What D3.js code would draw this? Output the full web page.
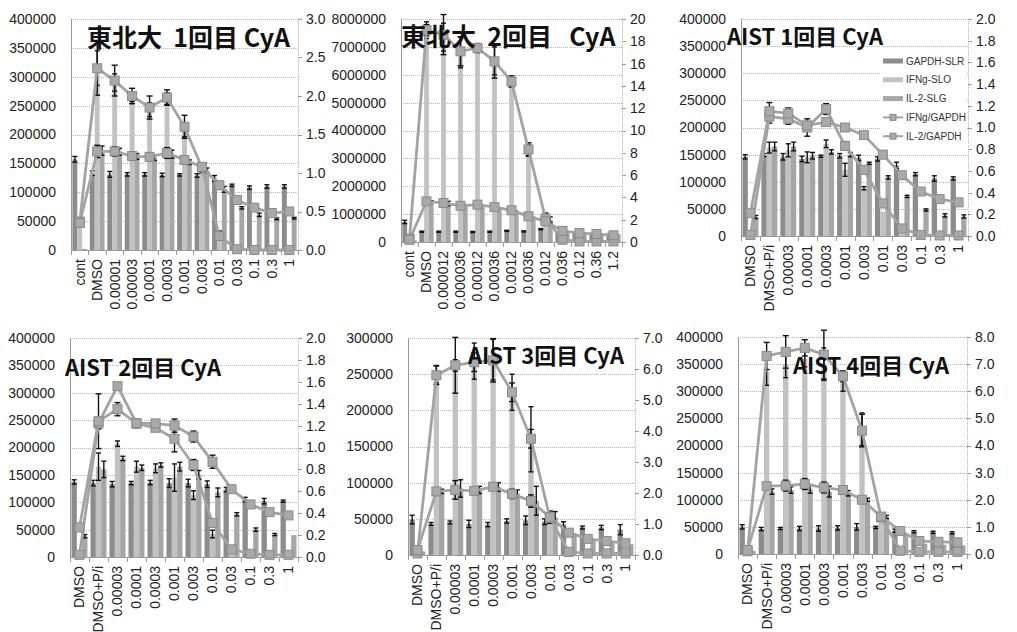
<!DOCTYPE html>
<html>
<head>
<meta charset="utf-8">
<title>CyA</title>
<script src="https://cdn.jsdelivr.net/npm/d3@7/dist/d3.min.js"></script>
<style>
  body { margin: 0; background: #fff; }
  svg text { font-family: "Liberation Sans", Arial, sans-serif; fill: #222; }
  .title { font-family: "Noto Sans CJK JP", sans-serif; font-weight: bold; fill: #111; white-space: pre; }
  .legend text { font-size: 10px; fill: #333; }
</style>
</head>
<body>
<div id="chart"></div>
<script>
// categories
const cats1 = ['cont', 'DMSO', '0.00001', '0.00003', '0.0001', '0.0003', '0.001', '0.003', '0.01', '0.03', '0.1', '0.3', '1'];
const cats2 = ['cont', 'DMSO', '0.000012', '0.000036', '0.00012', '0.00036', '0.0012', '0.0036', '0.012', '0.036', '0.12', '0.36', '1.2'];
const catsAist = ['DMSO', 'DMSO+P/i', '0.00003', '0.0001', '0.0003', '0.001', '0.003', '0.01', '0.03', '0.1', '0.3', '1'];

const seriesNames = ['GAPDH-SLR', 'IFNg-SLO', 'IL-2-SLG', 'IFNg/GAPDH', 'IL-2/GAPDH'];

// 東北大 1回目
const p1Gapdh = [157000, 133000, 131000, 131000, 131000, 130000, 130000, 129000, 124000, 112000, 108000, 110000, 110000];
const p1GapdhErr = [5000, 4000, 5000, 3000, 3000, 3000, 2000, 3000, 5000, 2000, 3000, 3000, 3000];
const p1Ifng = [55000, 315000, 290000, 265000, 243000, 262000, 208000, 140000, 28000, 1000, 500, 500, 500];
const p1IfngErr = [0, 30000, 15000, 8000, 12000, 10000, 12000, 6000, 5000, 0, 0, 0, 0];
const p1Il2 = [2000, 172000, 170000, 162000, 160000, 166000, 152000, 138000, 105000, 73000, 61000, 54000, 55000];
const p1Il2Err = [0, 8000, 6000, 5000, 5000, 7000, 4000, 4000, 5000, 2000, 3000, 1500, 1500];
const p1IfngRatio = [0.37, 2.36, 2.2, 2.0, 1.85, 1.98, 1.6, 1.07, 0.18, 0.01, 0.0, 0.0, 0.0];
const p1IfngRatioErr = [0, 0.35, 0.2, 0.1, 0.15, 0.1, 0.15, 0.05, 0.05, 0, 0, 0, 0];
const p1Il2Ratio = [0.35, 1.28, 1.28, 1.22, 1.21, 1.26, 1.17, 1.08, 0.84, 0.65, 0.55, 0.48, 0.5];
const p1Il2RatioErr = [0, 0.08, 0.06, 0.05, 0.05, 0.07, 0.05, 0.05, 0.05, 0.02, 0.03, 0.02, 0.02];

// 東北大 2回目
const p2Gapdh = [720000, 370000, 370000, 370000, 360000, 370000, 400000, 380000, 460000, 350000, 340000, 330000, 330000];
const p2GapdhErr = [60000, 20000, 20000, 20000, 20000, 20000, 20000, 20000, 20000, 0, 0, 0, 0];
const p2Ifng = [120000, 7600000, 7350000, 6800000, 6950000, 6500000, 5750000, 3300000, 850000, 60000, 20000, 15000, 15000];
const p2IfngErr = [20000, 300000, 500000, 550000, 150000, 500000, 150000, 200000, 150000, 0, 0, 0, 0];
const p2Il2 = [60000, 1450000, 1380000, 1320000, 1320000, 1250000, 1150000, 920000, 800000, 400000, 330000, 300000, 280000];
const p2Il2Err = [0, 30000, 80000, 0, 0, 0, 0, 0, 100000, 0, 0, 0, 0];
const p2IfngRatio = [0.3, 19.0, 18.6, 17.1, 17.4, 16.2, 14.4, 8.3, 2.1, 0.2, 0.05, 0.05, 0.05];
const p2IfngRatioErr = [0, 0.5, 1.8, 1.3, 0.4, 1.5, 0.5, 0.6, 0.5, 0, 0, 0, 0];
const p2Il2Ratio = [0.2, 3.64, 3.5, 3.25, 3.35, 3.13, 2.84, 2.3, 1.85, 1.0, 0.8, 0.72, 0.6];
const p2Il2RatioErr = [0, 0, 0.2, 0, 0, 0, 0, 0, 0.3, 0, 0, 0, 0];

// AIST 1回目
const p3Gapdh = [146000, 149000, 146000, 142000, 147000, 148000, 144000, 142000, 130000, 114000, 106000, 106000];
const p3GapdhErr = [4000, 3000, 6000, 5000, 2000, 4000, 5000, 4000, 6000, 3000, 5000, 3000];
const p3Ifng = [1000, 163000, 158000, 145000, 170000, 122000, 88000, 45000, 10000, 2000, 1000, 1000];
const p3IfngErr = [0, 10000, 12000, 10000, 7000, 12000, 3000, 0, 0, 0, 0, 0];
const p3Il2 = [35000, 165000, 165000, 148000, 155000, 150000, 134000, 108000, 73000, 48000, 38000, 36000];
const p3Il2Err = [3000, 8000, 8000, 6000, 4000, 4000, 2000, 3000, 2000, 2000, 3000, 3000];
const p3IfngRatio = [0.01, 1.10, 1.08, 1.0, 1.17, 0.83, 0.61, 0.30, 0.07, 0.01, 0.005, 0.005];
const p3IfngRatioErr = [0, 0.06, 0.05, 0.08, 0.05, 0.04, 0.03, 0.02, 0, 0, 0, 0];
const p3Il2Ratio = [0.21, 1.15, 1.13, 1.02, 1.05, 1.0, 0.93, 0.75, 0.56, 0.41, 0.34, 0.31];
const p3Il2RatioErr = [0.02, 0.08, 0.05, 0.03, 0.03, 0.01, 0.02, 0, 0.03, 0, 0, 0];

// AIST 2回目
const p4Gapdh = [137000, 135000, 133000, 135000, 136000, 135000, 135000, 133000, 123000, 105000, 102000, 102000];
const p4GapdhErr = [4000, 5000, 5000, 3000, 4000, 8000, 7000, 6000, 4000, 4000, 5000, 2000];
const p4Ifng = [3000, 165000, 207000, 165000, 162000, 145000, 113000, 42000, 8000, 4000, 2000, 2000];
const p4IfngErr = [0, 25000, 5000, 10000, 8000, 25000, 8000, 7000, 0, 0, 0, 0];
const p4Il2 = [38000, 160000, 180000, 163000, 168000, 165000, 150000, 118000, 78000, 50000, 41000, 40000];
const p4Il2Err = [3000, 15000, 4000, 5000, 4000, 8000, 8000, 8000, 3000, 3000, 2000, 0];
const p4IfngRatio = [0.02, 1.22, 1.56, 1.22, 1.18, 1.08, 0.84, 0.31, 0.07, 0.03, 0.02, 0.02];
const p4IfngRatioErr = [0, 0.05, 0.02, 0.03, 0.03, 0.12, 0.05, 0.03, 0, 0, 0, 0];
const p4Il2Ratio = [0.27, 1.24, 1.35, 1.22, 1.22, 1.2, 1.1, 0.87, 0.62, 0.48, 0.41, 0.38];
const p4Il2RatioErr = [0.02, 0.25, 0.06, 0.04, 0.03, 0.06, 0.05, 0.06, 0.02, 0.02, 0.02, 0.02];

// AIST 3回目
const p5Gapdh = [49000, 43000, 45000, 43000, 42000, 47000, 48000, 46000, 42000, 38000, 38000, 35000];
const p5GapdhErr = [6000, 2000, 2000, 5000, 3000, 3000, 6000, 4000, 4000, 2000, 3000, 7000];
const p5Ifng = [1000, 250000, 262000, 268000, 270000, 225000, 160000, 55000, 4000, 2000, 1000, 1000];
const p5IfngErr = [0, 12000, 8000, 25000, 28000, 25000, 45000, 0, 0, 0, 0, 0];
const p5Il2 = [5000, 88000, 92000, 90000, 94000, 85000, 75000, 52000, 30000, 21000, 18000, 15000];
const p5Il2Err = [0, 3000, 12000, 5000, 6000, 5000, 20000, 8000, 0, 0, 0, 0];
const p5IfngRatio = [0.05, 5.8, 6.12, 6.22, 6.28, 5.25, 3.75, 1.2, 0.1, 0.05, 0.05, 0.05];
const p5IfngRatioErr = [0, 0.3, 0.9, 0.3, 0.7, 0.3, 0.3, 0, 0, 0, 0, 0];
const p5Il2Ratio = [0.16, 2.05, 2.1, 2.07, 2.2, 1.97, 1.74, 1.22, 0.72, 0.52, 0.45, 0.38];
const p5Il2RatioErr = [0, 0.05, 0.3, 0.1, 0.1, 0.15, 0.2, 0.2, 0, 0, 0, 0];

// AIST 4回目
const p6Gapdh = [50000, 46000, 47000, 47000, 47000, 48000, 50000, 49000, 43000, 41000, 40000, 39000];
const p6GapdhErr = [4000, 3000, 2000, 4000, 5000, 4000, 6000, 2000, 3000, 2000, 2000, 2000];
const p6Ifng = [4000, 336000, 350000, 360000, 350000, 315000, 230000, 65000, 4000, 2000, 1500, 1500];
const p6IfngErr = [0, 25000, 25000, 15000, 30000, 15000, 30000, 0, 0, 0, 0, 0];
const p6Il2 = [6000, 115000, 118000, 120000, 115000, 112000, 100000, 68000, 35000, 19000, 17000, 16000];
const p6Il2Err = [0, 5000, 6000, 8000, 10000, 5000, 3000, 3000, 0, 0, 0, 0];
const p6IfngRatio = [0.1, 7.3, 7.45, 7.6, 7.35, 6.55, 4.55, 1.35, 0.12, 0.08, 0.08, 0.08];
const p6IfngRatioErr = [0, 0.5, 0.6, 0.3, 0.9, 0.2, 0.6, 0, 0, 0, 0, 0];
const p6Il2Ratio = [0.15, 2.5, 2.52, 2.58, 2.45, 2.36, 2.0, 1.38, 0.85, 0.48, 0.45, 0.43];
const p6Il2RatioErr = [0, 0.1, 0.2, 0.2, 0.2, 0.15, 0.1, 0, 0, 0, 0, 0];

const panels = [
  { title: '東北大  1回目 CyA', cats: cats1, bars: [[p1Gapdh, p1GapdhErr], [p1Ifng, p1IfngErr], [p1Il2, p1Il2Err]],
    lines: [[p1IfngRatio, p1IfngRatioErr], [p1Il2Ratio, p1Il2RatioErr]],
    box: [71, 19, 298, 250], leftMax: 400000, leftStep: 50000, rightMax: 3, rightStep: 0.5, rightFmt: '.1f', tx: 87, ty: 47, ts: 25 },
  { title: '東北大  2回目   CyA', cats: cats2, bars: [[p2Gapdh, p2GapdhErr], [p2Ifng, p2IfngErr], [p2Il2, p2Il2Err]],
    lines: [[p2IfngRatio, p2IfngRatioErr], [p2Il2Ratio, p2Il2RatioErr]],
    box: [401, 19, 622, 242], leftMax: 8000000, leftStep: 1000000, rightMax: 20, rightStep: 2, rightFmt: 'd', tx: 401, ty: 46, ts: 25 },
  { title: 'AIST 1回目 CyA', cats: catsAist, bars: [[p3Gapdh, p3GapdhErr], [p3Ifng, p3IfngErr], [p3Il2, p3Il2Err]],
    lines: [[p3IfngRatio, p3IfngRatioErr], [p3Il2Ratio, p3Il2RatioErr]],
    box: [741, 19, 968, 236], leftMax: 400000, leftStep: 50000, rightMax: 2, rightStep: 0.2, rightFmt: '.1f', tx: 727, ty: 45, ts: 22, legend: true },
  { title: 'AIST 2回目 CyA', cats: catsAist, bars: [[p4Gapdh, p4GapdhErr], [p4Ifng, p4IfngErr], [p4Il2, p4Il2Err]],
    lines: [[p4IfngRatio, p4IfngRatioErr], [p4Il2Ratio, p4Il2RatioErr]],
    box: [70, 338, 298, 557], leftMax: 400000, leftStep: 50000, rightMax: 2, rightStep: 0.2, rightFmt: '.1f', tx: 65, ty: 376, ts: 22 },
  { title: 'AIST 3回目 CyA', cats: catsAist, bars: [[p5Gapdh, p5GapdhErr], [p5Ifng, p5IfngErr], [p5Il2, p5Il2Err]],
    lines: [[p5IfngRatio, p5IfngRatioErr], [p5Il2Ratio, p5Il2RatioErr]],
    box: [408, 338, 635, 555], leftMax: 300000, leftStep: 50000, rightMax: 7, rightStep: 1, rightFmt: '.1f', tx: 468, ty: 364, ts: 22 },
  { title: 'AIST 4回目 CyA', cats: catsAist, bars: [[p6Gapdh, p6GapdhErr], [p6Ifng, p6IfngErr], [p6Il2, p6Il2Err]],
    lines: [[p6IfngRatio, p6IfngRatioErr], [p6Il2Ratio, p6Il2RatioErr]],
    box: [738, 337, 967, 554], leftMax: 400000, leftStep: 50000, rightMax: 8, rightStep: 1, rightFmt: '.1f', tx: 793, ty: 374, ts: 22 }
];

const barColors = ['#8c8c8c', '#c2c2c2', '#a6a6a6'];
const lineColor = '#a3a3a3';

const svg = d3.select('#chart').append('svg')
  .attr('width', 1017)
  .attr('height', 632);

function errorBar(g, x, y0, y1, cap) {
  g.append('line').attr('x1', x).attr('x2', x).attr('y1', y0).attr('y2', y1);
  g.append('line').attr('x1', x - cap).attr('x2', x + cap).attr('y1', y0).attr('y2', y0);
  g.append('line').attr('x1', x - cap).attr('x2', x + cap).attr('y1', y1).attr('y2', y1);
}

panels.forEach(p => {
  const [x0, y0, x1, y1] = p.box;
  const g = svg.append('g');

  const x = d3.scaleBand().domain(p.cats).range([x0, x1]);
  const bw = x.bandwidth();
  const xs = d3.scaleBand().domain([0, 1, 2]).range([bw * 0.08, bw * 0.92]);
  const yL = d3.scaleLinear().domain([0, p.leftMax]).range([y1, y0]);
  const yR = d3.scaleLinear().domain([0, p.rightMax]).range([y1, y0]);
  const leftTicks = d3.range(0, p.leftMax + p.leftStep / 2, p.leftStep);
  const rightTicks = d3.range(0, p.rightMax + p.rightStep / 2, p.rightStep);

  // gridlines
  g.append('g').selectAll('line').data(leftTicks.slice(1)).enter().append('line')
    .attr('x1', x0).attr('x2', x1)
    .attr('y1', d => Math.round(yL(d)) + 0.5).attr('y2', d => Math.round(yL(d)) + 0.5)
    .attr('stroke', '#b5b5b5').attr('stroke-dasharray', '1,1');
  g.append('line').attr('x1', x1 + 0.5).attr('x2', x1 + 0.5).attr('y1', y0).attr('y2', y1)
    .attr('stroke', '#b5b5b5').attr('stroke-dasharray', '1,1');

  // bars
  p.bars.forEach((s, si) => {
    g.append('g').selectAll('rect').data(s[0]).enter().append('rect')
      .attr('x', (d, i) => x(p.cats[i]) + xs(si))
      .attr('width', xs.bandwidth())
      .attr('y', d => yL(d))
      .attr('height', d => y1 - yL(d))
      .attr('fill', barColors[si]);
  });
  const eb = g.append('g').attr('stroke', '#111').attr('stroke-width', 1.4);
  p.bars.forEach((s, si) => {
    s[0].forEach((v, i) => {
      const e = s[1][i];
      if (!e) return;
      const cx = x(p.cats[i]) + xs(si) + xs.bandwidth() / 2;
      errorBar(eb, cx, yL(v + e), yL(Math.max(0, v - e)), 2.5);
    });
  });

  // ratio lines
  const line = d3.line().x((d, i) => x(p.cats[i]) + bw / 2).y(d => yR(d));
  p.lines.forEach(s => {
    g.append('path').datum(s[0]).attr('d', line)
      .attr('fill', 'none').attr('stroke', lineColor).attr('stroke-width', 2.8);
  });
  p.lines.forEach(s => {
    g.append('g').selectAll('rect').data(s[0]).enter().append('rect')
      .attr('x', (d, i) => x(p.cats[i]) + bw / 2 - 4.5)
      .attr('y', d => yR(d) - 4.5)
      .attr('width', 9).attr('height', 9)
      .attr('fill', '#a9a9a9').attr('stroke', '#8a8a8a').attr('stroke-width', 1);
    s[0].forEach((v, i) => {
      const e = s[1][i];
      if (!e) return;
      errorBar(eb, x(p.cats[i]) + bw / 2, yR(v + e), yR(Math.max(0, v - e)), 3);
    });
  });

  // axes
  g.append('line').attr('x1', x0 + 0.5).attr('x2', x0 + 0.5).attr('y1', y0).attr('y2', y1)
    .attr('stroke', '#9a9a9a');
  g.append('line').attr('x1', x0).attr('x2', x1).attr('y1', y1 + 0.5).attr('y2', y1 + 0.5)
    .attr('stroke', '#9a9a9a');
  g.append('g').selectAll('line').data(d3.range(p.cats.length + 1)).enter().append('line')
    .attr('x1', i => Math.round(x0 + i * bw) + 0.5).attr('x2', i => Math.round(x0 + i * bw) + 0.5)
    .attr('y1', y1).attr('y2', y1 + 5).attr('stroke', '#9a9a9a');
  g.append('g').selectAll('line').data(rightTicks).enter().append('line')
    .attr('x1', x1).attr('x2', x1 + 4)
    .attr('y1', d => Math.round(yR(d)) + 0.5).attr('y2', d => Math.round(yR(d)) + 0.5)
    .attr('stroke', '#9a9a9a');

  g.append('g').selectAll('text').data(leftTicks).enter().append('text')
    .attr('x', x0 - 15).attr('y', d => yL(d)).attr('dy', '0.35em')
    .attr('text-anchor', 'end').style('font-size', '14px')
    .text(d => d);
  const rf = d3.format(p.rightFmt);
  g.append('g').selectAll('text').data(rightTicks).enter().append('text')
    .attr('x', x1 + 8).attr('y', d => yR(d)).attr('dy', '0.35em')
    .style('font-size', '14px')
    .text(d => rf(d));
  g.append('g').selectAll('text').data(p.cats).enter().append('text')
    .attr('transform', d => `translate(${x(d) + bw / 2},${y1 + 9}) rotate(-90)`)
    .attr('dy', '0.35em').attr('text-anchor', 'end').style('font-size', '14px')
    .text(d => d);

  g.append('text').attr('class', 'title')
    .attr('x', p.tx).attr('y', p.ty).style('font-size', p.ts + 'px')
    .text(p.title);

  if (p.legend) {
    const lg = g.append('g').attr('class', 'legend');
    lg.append('rect').attr('x', 880).attr('y', 52).attr('width', 86).attr('height', 94).attr('fill', '#fff');
    seriesNames.forEach((name, i) => {
      const ly = 61 + i * 18.8;
      if (i < 3) {
        lg.append('rect').attr('x', 883).attr('y', ly - 2.5).attr('width', 20).attr('height', 5).attr('fill', barColors[i]);
      } else {
        lg.append('line').attr('x1', 883).attr('x2', 903).attr('y1', ly).attr('y2', ly)
          .attr('stroke', lineColor).attr('stroke-width', 2);
        lg.append('rect').attr('x', 890).attr('y', ly - 3).attr('width', 6).attr('height', 6)
          .attr('fill', '#a9a9a9').attr('stroke', '#8a8a8a');
      }
      lg.append('text').attr('x', 906).attr('y', ly).attr('dy', '0.35em').text(name);
    });
  }
});
</script>
</body>
</html>
